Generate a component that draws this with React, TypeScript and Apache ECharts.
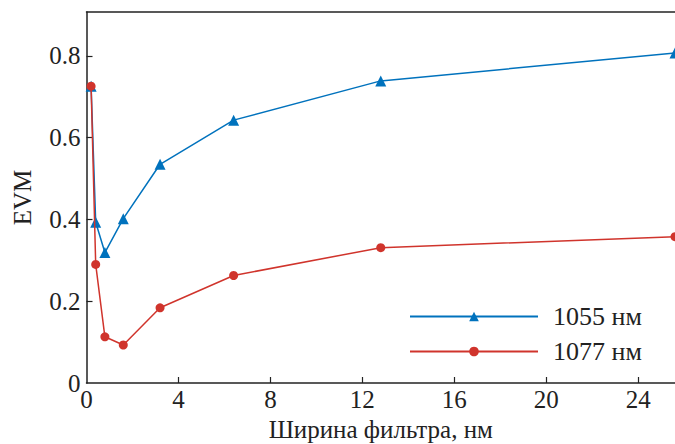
import React, { useEffect, useRef } from "react";
import * as echarts from "echarts";

const filterWidths = [0.2, 0.4, 0.8, 1.6, 3.2, 6.4, 12.8, 25.6];
const evm1055 = [0.726, 0.393, 0.319, 0.402, 0.535, 0.643, 0.739, 0.807];
const evm1077 = [0.726, 0.29, 0.113, 0.093, 0.184, 0.263, 0.331, 0.358];
const seriesNames = ["1055 нм", "1077 нм"];
const xTicks = [0, 4, 8, 12, 16, 20, 24];
const yTicks = [0, 0.2, 0.4, 0.6, 0.8];

const FONT = "'Liberation Serif', 'Times New Roman', serif";
const BLUE = "#0072BD";
const RED = "#D0342C";

export default function App() {
  const ref = useRef<HTMLDivElement>(null);
  useEffect(() => {
    if (!ref.current) return;
    const chart = echarts.init(ref.current, null, { renderer: "svg" });
    const axisText = { fontFamily: FONT, fontSize: 25, color: "#222" };
    chart.setOption({
      animation: false,
      backgroundColor: "#fff",
      textStyle: { fontFamily: FONT },
      grid: { left: 86.5, right: 0, top: 12, bottom: 61, containLabel: false, outerBoundsMode: "none" },
      legend: {
        orient: "vertical",
        left: 409,
        top: 303,
        padding: 0,
        itemWidth: 128,
        itemHeight: 12,
        itemGap: 8,
        data: seriesNames,
        textStyle: { fontFamily: FONT, fontSize: 26, color: "#222", lineHeight: 27, padding: [0, 0, 0, 10] },
      },
      xAxis: [
        {
          type: "value",
          min: 0,
          max: 25.6,
          name: "Ширина фильтра, нм",
          nameLocation: "middle",
          nameGap: 34,
          nameTextStyle: axisText,
          axisLine: { show: true, onZero: false, lineStyle: { color: "#222", width: 1.5 } },
          axisTick: { show: true, inside: true, length: 6, customValues: xTicks.slice(1), lineStyle: { color: "#222", width: 1.2 } },
          axisLabel: { ...axisText, margin: 4, customValues: xTicks },
          splitLine: { show: false },
        },
        {
          type: "value",
          position: "top",
          min: 0,
          max: 25.6,
          axisLine: { show: true, onZero: false, lineStyle: { color: "#222", width: 1.5 } },
          axisTick: { show: false },
          axisLabel: { show: false },
          splitLine: { show: false },
        },
      ],
      yAxis: {
        type: "value",
        min: 0,
        max: 0.9075,
        name: "EVM",
        nameLocation: "middle",
        nameGap: 52,
        nameRotate: 90,
        nameTextStyle: axisText,
        axisLine: { show: true, onZero: false, lineStyle: { color: "#222", width: 1.5 } },
        axisTick: { show: true, inside: true, length: 6, customValues: yTicks.slice(1), lineStyle: { color: "#222", width: 1.2 } },
        axisLabel: { ...axisText, margin: 6, customValues: yTicks, formatter: (v: number) => String(v) },
        splitLine: { show: false },
      },
      series: [
        {
          name: seriesNames[0],
          type: "line",
          clip: false,
          data: filterWidths.map((x, i) => [x, evm1055[i]]),
          symbol: "triangle",
          symbolSize: 11,
          lineStyle: { color: BLUE, width: 1.5 },
          itemStyle: { color: BLUE },
          z: 2,
        },
        {
          name: seriesNames[1],
          type: "line",
          clip: false,
          data: filterWidths.map((x, i) => [x, evm1077[i]]),
          symbol: "circle",
          symbolSize: 9,
          lineStyle: { color: RED, width: 1.5 },
          itemStyle: { color: RED },
          z: 3,
        },
      ],
    });
    return () => chart.dispose();
  }, []);
  return (
    <div
      ref={ref}
      style={{ position: "fixed", left: 0, top: 0, width: 675, height: 444, background: "#fff" }}
    />
  );
}
